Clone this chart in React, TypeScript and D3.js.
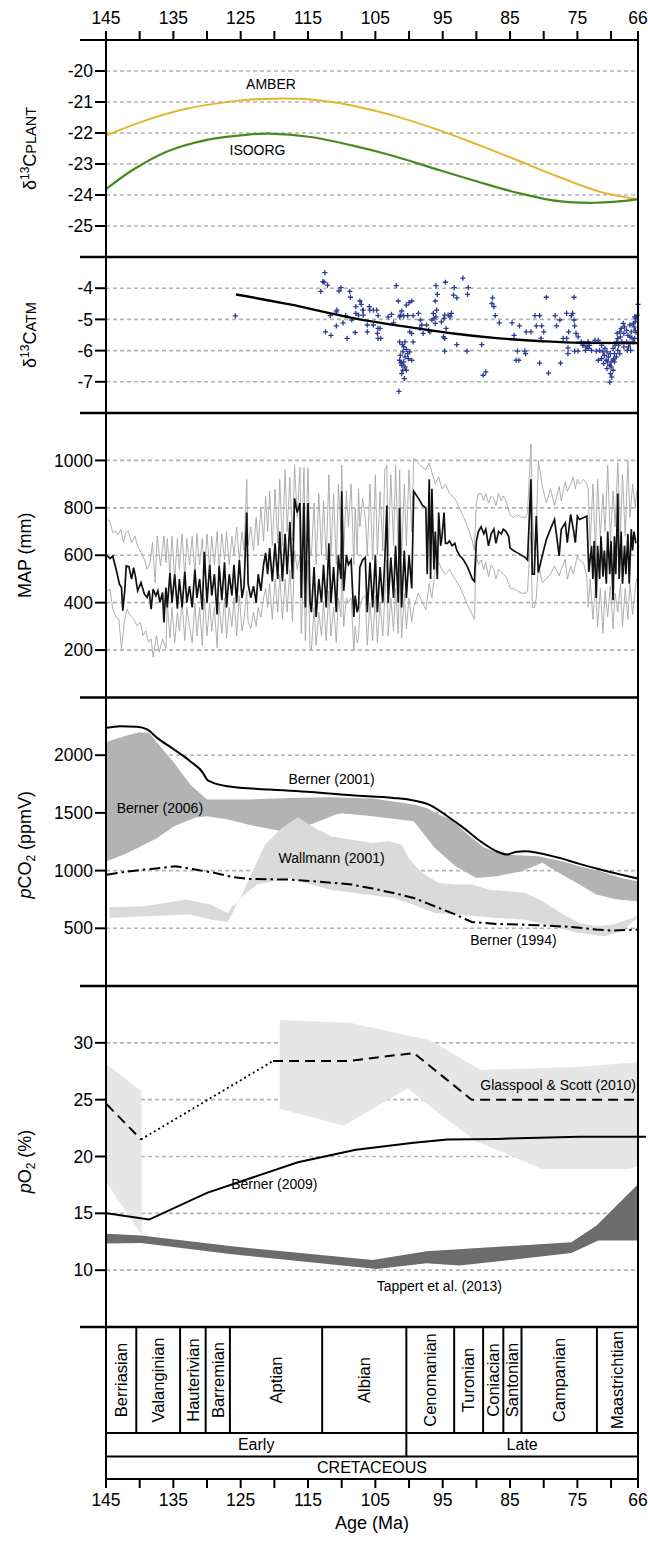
import React from "react";
import * as d3 from "d3";

type Pt = [number, number];

// ---- shared age axis ----
const ageTicks = [145, 140, 135, 130, 125, 120, 115, 110, 105, 100, 95, 90, 85, 80, 75, 70, 66];
const ageLabels = [145, 135, 125, 115, 105, 95, 85, 75, 66];

// ---- panel 1: d13C plant ----
const plantTicks = [-20, -21, -22, -23, -24, -25];
const amber: Pt[] = [[145, -22.08], [139.2, -21.6], [133.1, -21.22], [126.3, -20.98], [121.4, -20.9], [114.6, -20.92], [108.5, -21.11], [102.3, -21.44], [96.2, -21.86], [90.1, -22.35], [83.9, -22.88], [77.7, -23.42], [71.6, -23.9], [66, -24.14]];
const isoorg: Pt[] = [[145, -23.81], [141.1, -23.2], [136.1, -22.61], [130, -22.22], [123.9, -22.05], [120.8, -22.02], [114.6, -22.13], [108.5, -22.4], [102.3, -22.74], [96.2, -23.15], [90.1, -23.55], [83.9, -23.93], [77.7, -24.2], [72.2, -24.25], [66, -24.14]];

// ---- panel 2: d13C atm ----
const atmTicks = [-4, -5, -6, -7];
const atmTrend: Pt[] = [[125.7, -4.2], [117.7, -4.52], [108.5, -4.95], [99.3, -5.27], [93.1, -5.46], [87, -5.6], [80.8, -5.69], [74.7, -5.75], [66, -5.76]];
const atmPoints: Pt[] = [
  [125.8, -4.89], [112.5, -3.5], [112.8, -3.79], [112.6, -3.81], [112.1, -3.9], [113.1, -4.1], [110.4, -4.09], [110.1, -3.98], [108.8, -4.1], [108.7, -4.29],
  [107.3, -4.41], [107.1, -4.52], [107.9, -4.59], [106.9, -4.7], [107.9, -4.81], [107.5, -4.86], [110.7, -4.7], [110.8, -4.76], [111.7, -4.88], [109.4, -4.88],
  [108.5, -5.02], [109.8, -5.11], [110.8, -5.21], [112.4, -5.4], [111.6, -5.51], [109.2, -5.61], [108.0, -5.42],
  [106.8, -4.7], [105.9, -4.59], [105.8, -4.7], [105.3, -4.7], [104.8, -4.7], [104.6, -4.88], [106.8, -4.86], [106.2, -5.18], [106.2, -5.4], [105.3, -5.18],
  [104.6, -5.29], [104.3, -5.29], [104.7, -5.45], [104.6, -5.61], [104.2, -5.61], [103.1, -4.92], [102.6, -4.84], [102.3, -5.11], [101.6, -4.41], [101.1, -4.73],
  [101.3, -4.86], [101.4, -4.92], [100.8, -4.89], [100.4, -4.54], [100.0, -4.46], [99.6, -4.41], [100.2, -4.88], [99.4, -4.88], [98.6, -4.81], [98.3, -5.02],
  [98.1, -5.18], [98.4, -5.29], [97.9, -5.45], [99.9, -5.4], [99.6, -5.45], [99.4, -5.72], [100.6, -5.72], [101.4, -5.72], [101.9, -3.92],
  [100.8, -5.88], [100.4, -5.96], [100.9, -6.04], [99.9, -6.04], [101.3, -6.15], [100.6, -6.2], [100.1, -6.26], [100.8, -6.36], [101.4, -6.31], [99.6, -6.31],
  [101.1, -6.47], [100.6, -6.52], [100.9, -6.63], [100.4, -6.63], [101.1, -6.74], [101.5, -7.31], [101.0, -5.8], [100.2, -6.1], [101.2, -6.4], [100.7, -6.9],
  [97.4, -5.18], [97.1, -5.35], [96.9, -5.4], [96.6, -5.02], [96.3, -4.97], [96.1, -5.13], [96.0, -4.92], [96.4, -4.81], [95.9, -4.7], [96.1, -4.41],
  [95.8, -4.2], [96.0, -3.92], [95.2, -5.08], [94.9, -5.56], [94.7, -5.61], [94.5, -5.29], [94.8, -4.97], [94.7, -4.86], [94.2, -4.86], [93.7, -4.81],
  [93.9, -4.92], [94.7, -6.02], [94.6, -3.81], [93.3, -3.98], [93.4, -4.22], [92.9, -4.31], [92.9, -5.81], [92.0, -3.68], [91.2, -3.98], [91.3, -4.2],
  [91.4, -6.02], [89.2, -5.81], [89.0, -6.79], [88.6, -6.68], [87.6, -4.31], [87.7, -4.49], [87.4, -4.59], [87.2, -4.88], [86.6, -5.11],
  [84.7, -5.11], [83.6, -5.21], [84.4, -5.51], [82.6, -5.4], [81.9, -5.4], [81.3, -4.88], [80.6, -4.88], [81.1, -5.21], [80.3, -5.21], [80.0, -5.4],
  [80.4, -5.61], [79.6, -4.29], [78.3, -4.88], [77.6, -5.02], [78.1, -5.21], [76.6, -4.81], [75.9, -4.88], [75.7, -4.81], [75.5, -5.02], [75.4, -5.21],
  [75.5, -4.29], [76.3, -5.4], [75.2, -5.45], [77.1, -5.61], [76.6, -5.61], [74.9, -5.56], [83.9, -6.02], [82.8, -6.02], [82.7, -6.1], [84.1, -6.31],
  [83.7, -6.31], [80.6, -6.4], [79.3, -6.72], [77.5, -6.4], [76.4, -5.91], [75.4, -6.02], [74.9, -6.02], [76.4, -6.1],
  [74.4, -5.72], [74.0, -5.77], [73.7, -5.88], [73.4, -5.93], [73.8, -5.99], [74.2, -5.83], [73.2, -5.83], [72.4, -5.67], [71.9, -5.67], [71.4, -5.83],
  [71.7, -5.99], [71.2, -6.04], [71.0, -6.15], [71.9, -6.31], [71.4, -6.26], [70.7, -6.31], [70.5, -6.36], [71.1, -6.42], [70.2, -6.47], [70.6, -6.58],
  [70.0, -6.52], [69.7, -6.63], [70.1, -6.74], [69.9, -6.85], [70.2, -7.01], [70.0, -6.36], [69.6, -6.26], [69.5, -6.1], [69.7, -5.93], [69.4, -5.83],
  [69.2, -5.72], [69.0, -5.61], [69.1, -5.45], [68.7, -5.4], [68.5, -5.29], [68.2, -5.13], [68.0, -5.24], [67.7, -5.35], [68.1, -5.45], [67.5, -5.51],
  [67.2, -5.56], [67.7, -5.72], [67.4, -5.88], [67.1, -5.99], [66.7, -5.72], [66.5, -5.61], [67.0, -5.4], [66.6, -5.24], [66.4, -5.08], [66.3, -4.97],
  [66.1, -4.86], [66.0, -4.52], [66.5, -4.92], [66.7, -5.13], [67.2, -5.18], [69.0, -5.99], [68.7, -6.1], [69.5, -6.36], [70.4, -6.2], [70.9, -5.93],
  [72.2, -6.02], [72.9, -5.99], [73.4, -5.72], [68.9, -5.83], [68.4, -5.72], [68.1, -5.88], [67.6, -5.99], [67.2, -5.77], [66.9, -5.59], [66.3, -5.42],
  [66.4, -5.35], [68.6, -5.56], [69.2, -6.2], [69.7, -6.31], [70.1, -6.1], [70.6, -6.04],
];

// ---- panel 3: MAP ----
const mapTicks = [200, 400, 600, 800, 1000];
const mapMid: Pt[] = [
  [144.9, 600], [144.4, 586], [144.0, 597], [143.5, 541], [143.0, 478], [142.7, 464], [142.5, 366], [142.2, 457], [142.0, 555], [141.6, 552], [141.2, 499], [140.9, 548], [140.6, 506], [140.3, 450], [139.8, 485], [139.3, 436], [138.9, 422], [138.6, 450], [138.3, 373], [138.0, 457], [137.6, 429], [137.3, 450], [137.0, 401], [136.6, 443], [136.4, 317], [136.1, 464],
  [135.9, 380], [135.5, 525], [135.2, 400], [134.8, 520], [134.4, 375], [134.1, 500], [133.7, 380], [133.3, 530], [133.0, 400], [132.6, 470], [132.2, 380], [131.8, 540], [131.5, 420], [131.1, 500], [130.7, 370], [130.4, 615], [130.0, 400], [129.6, 560], [129.3, 430], [128.9, 520], [128.5, 350], [128.2, 555], [127.8, 410], [127.4, 570], [127.1, 380], [126.7, 520], [126.3, 430], [126.0, 560], [125.6, 400], [125.2, 580], [124.8, 420], [124.5, 470], [124.1, 780], [123.9, 480], [123.5, 420], [123.1, 470], [122.7, 400], [122.4, 520], [122.0, 450], [121.6, 560], [121.3, 610],
  [121.0, 520], [120.7, 630], [120.3, 490], [119.9, 650], [119.5, 500], [119.2, 700], [118.8, 490], [118.4, 690], [118.1, 520], [117.7, 740], [117.3, 500], [117.0, 840], [116.6, 780], [116.2, 820], [116.0, 420], [115.6, 820], [115.4, 380], [115.0, 820], [114.7, 400],
  [114.5, 360], [114.1, 550], [113.8, 340], [113.4, 500], [113.0, 400], [112.7, 560], [112.3, 380], [111.9, 650], [111.6, 400], [111.2, 550], [110.8, 360], [110.5, 600], [110.1, 500], [110.0, 870], [109.7, 450], [109.3, 600], [109.0, 560], [108.6, 580], [108.2, 340], [108.0, 430], [107.7, 360], [107.5, 380], [107.3, 550], [106.9, 580], [106.5, 590], [106.2, 360], [105.8, 570], [105.4, 380], [105.0, 600], [104.7, 360], [104.3, 550], [103.9, 400], [103.6, 580], [103.3, 810], [103.1, 400], [102.7, 590], [102.3, 420], [102.0, 640], [101.6, 400], [101.4, 800], [101.1, 380], [100.7, 620], [100.4, 420], [100.0, 600], [99.6, 460],
  [99.3, 870], [98.6, 840], [98.0, 810], [97.5, 800], [97.3, 520], [97.0, 920], [96.8, 500], [96.6, 880], [96.3, 540], [96.1, 700], [95.8, 500], [95.6, 780], [95.3, 640], [95.1, 680], [94.8, 780], [94.6, 650], [94.3, 650], [94.0, 660], [93.6, 640], [93.2, 650], [92.9, 620], [92.5, 600], [91.9, 580], [91.3, 550], [90.6, 500], [90.3, 490],
  [90.0, 660], [89.7, 700], [89.3, 720], [88.9, 690], [88.6, 710], [88.2, 640], [87.8, 690], [87.4, 710], [87.1, 650], [86.7, 700], [86.3, 690], [86.0, 710], [85.6, 700], [85.2, 680], [85.0, 630], [84.5, 620], [83.9, 610], [83.3, 600], [82.7, 590], [82.4, 580], [81.9, 920], [81.7, 520], [81.4, 520],
  [81.1, 765], [80.8, 527], [80.2, 600], [79.6, 667], [79.0, 710], [78.4, 751], [77.7, 597], [77.4, 709], [76.8, 737], [76.5, 653], [76.0, 772], [75.6, 709], [75.3, 653], [75.0, 765], [74.7, 751], [74.1, 758], [73.6, 765],
  [73.3, 530], [72.9, 640], [72.7, 500], [72.5, 660], [72.2, 420], [72.0, 640], [71.7, 500], [71.5, 680], [71.2, 510], [71.0, 620], [70.7, 480], [70.5, 700], [70.2, 520], [70.0, 660], [69.7, 410], [69.5, 680], [69.3, 520], [69.0, 860], [68.8, 500], [68.5, 700], [68.3, 480], [68.0, 640], [67.8, 520], [67.5, 690], [67.3, 480], [67.0, 710], [66.8, 620], [66.6, 700], [66.3, 650],
];
const mapHigh: Pt[] = [
  [144.9, 751], [144.4, 744], [144.0, 695], [143.6, 702], [143.2, 688], [142.8, 709], [142.4, 653], [142.1, 695], [141.7, 702], [141.2, 653], [140.7, 681], [140.3, 639], [139.8, 611], [139.3, 583], [138.9, 541], [138.5, 562], [138.1, 653], [137.7, 485], [137.4, 681], [136.9, 555], [136.4, 681], [136.1, 569],
  [135.9, 670], [135.5, 520], [135.2, 680], [134.8, 500], [134.4, 670], [134.1, 540], [133.7, 690], [133.3, 500], [133.0, 670], [132.6, 560], [132.2, 680], [131.8, 520], [131.5, 690], [131.1, 560], [130.7, 670], [130.4, 520], [130.0, 690], [129.6, 540], [129.3, 680], [128.9, 560], [128.5, 700], [128.2, 540], [127.8, 690], [127.4, 580], [127.1, 700], [126.7, 560], [126.3, 680], [126.0, 600], [125.6, 720], [125.2, 580], [124.8, 700], [124.5, 620], [124.1, 920], [123.9, 640], [123.5, 720], [123.1, 620], [122.7, 760], [122.4, 640], [122.0, 800], [121.6, 660], [121.3, 850],
  [121.0, 700], [120.7, 870], [120.3, 640], [119.9, 880], [119.5, 650], [119.2, 920], [118.8, 640], [118.4, 960], [118.1, 700], [117.7, 930], [117.3, 660], [117.0, 980], [116.6, 760], [116.2, 970], [116.0, 600], [115.6, 970], [115.4, 600], [115.0, 970], [114.7, 620],
  [114.5, 600], [114.1, 820], [113.8, 560], [113.4, 860], [113.0, 600], [112.7, 830], [112.3, 580], [111.9, 940], [111.6, 600], [111.2, 860], [110.8, 560], [110.5, 900], [110.1, 700], [110.0, 980], [109.7, 620], [109.3, 870], [109.0, 720], [108.6, 900], [108.2, 560], [108.0, 800], [107.7, 600], [107.5, 880], [107.3, 720], [106.9, 840], [106.5, 760], [106.2, 600], [105.8, 900], [105.4, 580], [105.0, 940], [104.7, 600], [104.3, 870], [103.9, 620], [103.6, 960], [103.3, 980], [103.1, 600], [102.7, 940], [102.3, 640], [102.0, 980], [101.6, 620], [101.4, 960], [101.1, 600], [100.7, 900], [100.4, 640], [100.0, 960], [99.6, 700],
  [99.3, 1010], [98.6, 990], [98.0, 970], [97.5, 960], [97.0, 990], [96.6, 950], [96.1, 900], [95.6, 930], [95.1, 880], [94.6, 900], [94.0, 860], [93.2, 840], [92.5, 800], [91.9, 760], [91.3, 720], [90.6, 660], [90.3, 620],
  [90.0, 820], [89.7, 860], [89.3, 860], [88.9, 830], [88.6, 860], [88.2, 820], [87.8, 850], [87.4, 840], [87.1, 810], [86.7, 860], [86.3, 830], [86.0, 850], [85.6, 830], [85.2, 790], [85.0, 770], [84.5, 760], [83.9, 770], [83.3, 760], [82.7, 760], [82.4, 780], [81.9, 1070], [81.7, 800], [81.4, 620],
  [81.1, 700], [80.8, 1000], [80.2, 890], [79.6, 820], [79.0, 880], [78.4, 810], [77.7, 890], [77.4, 830], [76.8, 910], [76.5, 870], [76.0, 900], [75.6, 930], [75.3, 880], [75.0, 920], [74.7, 900], [74.1, 920], [73.6, 900],
  [73.4, 880], [73.1, 640], [72.7, 900], [72.3, 620], [72.0, 920], [71.6, 680], [71.2, 860], [70.9, 700], [70.5, 980], [70.1, 660], [69.7, 870], [69.4, 720], [69.0, 990], [68.6, 700], [68.3, 940], [67.9, 680], [67.5, 1000], [67.2, 760], [66.8, 900], [66.4, 800], [66.2, 870],
];
const mapLow: Pt[] = [
  [144.9, 450], [144.4, 457], [144.0, 373], [143.5, 338], [143.1, 331], [142.7, 205], [142.3, 317], [141.9, 373], [141.4, 345], [140.9, 331], [140.4, 303], [139.9, 317], [139.5, 261], [139.1, 282], [138.7, 233], [138.3, 247], [138.0, 170], [137.5, 261], [137.1, 191], [136.6, 247], [136.1, 205],
  [135.9, 400], [135.5, 250], [135.2, 380], [134.8, 230], [134.4, 360], [134.1, 280], [133.7, 400], [133.3, 240], [133.0, 380], [132.6, 300], [132.2, 230], [131.8, 400], [131.5, 260], [131.1, 380], [130.7, 220], [130.4, 420], [130.0, 260], [129.6, 400], [129.3, 280], [128.9, 380], [128.5, 210], [128.2, 400], [127.8, 270], [127.4, 420], [127.1, 250], [126.7, 380], [126.3, 300], [126.0, 420], [125.6, 260], [125.2, 430], [124.8, 280], [124.5, 330], [124.1, 450], [123.9, 320], [123.5, 290], [123.1, 360], [122.7, 300], [122.4, 380], [122.0, 340], [121.6, 420], [121.3, 460],
  [121.0, 380], [120.7, 480], [120.3, 330], [119.9, 500], [119.5, 360], [119.2, 520], [118.8, 330], [118.4, 500], [118.1, 360], [117.7, 540], [117.3, 320], [117.0, 620], [116.6, 540], [116.2, 600], [116.0, 270], [115.6, 600], [115.4, 240], [115.0, 580], [114.7, 210],
  [114.5, 200], [114.1, 380], [113.8, 220], [113.4, 360], [113.0, 260], [112.7, 400], [112.3, 240], [111.9, 450], [111.6, 260], [111.2, 380], [110.8, 230], [110.5, 420], [110.1, 340], [110.0, 620], [109.7, 300], [109.3, 420], [109.0, 400], [108.6, 420], [108.2, 200], [108.0, 300], [107.7, 230], [107.5, 250], [107.3, 380], [106.9, 420], [106.5, 430], [106.2, 220], [105.8, 400], [105.4, 240], [105.0, 430], [104.7, 230], [104.3, 400], [103.9, 260], [103.6, 420], [103.3, 580], [103.1, 260], [102.7, 420], [102.3, 280], [102.0, 460], [101.6, 270], [101.4, 580], [101.1, 250], [100.7, 440], [100.4, 290], [100.0, 420], [99.6, 320],
  [99.3, 380], [98.6, 440], [98.0, 400], [97.5, 370], [97.0, 480], [96.6, 420], [96.1, 550], [95.6, 570], [95.1, 540], [94.6, 520], [94.0, 540], [93.2, 500], [92.5, 470], [91.9, 430], [91.3, 390], [90.6, 350], [90.3, 330],
  [90.0, 600], [89.7, 560], [89.3, 580], [88.9, 540], [88.6, 570], [88.2, 510], [87.8, 560], [87.4, 540], [87.1, 500], [86.7, 540], [86.3, 530], [86.0, 520], [85.6, 510], [85.2, 480], [85.0, 460], [84.5, 460], [83.9, 450], [83.3, 440], [82.7, 440], [82.4, 450], [81.9, 700], [81.7, 380], [81.4, 380],
  [81.1, 420], [80.8, 560], [80.2, 485], [79.6, 500], [79.0, 520], [78.4, 555], [77.7, 513], [77.4, 540], [76.8, 583], [76.5, 499], [76.0, 555], [75.6, 520], [75.3, 560], [75.0, 597], [74.7, 580], [74.1, 569], [73.6, 513],
  [73.4, 380], [73.1, 500], [72.7, 330], [72.3, 480], [72.0, 300], [71.6, 460], [71.2, 270], [70.9, 450], [70.5, 340], [70.1, 470], [69.7, 290], [69.4, 440], [69.0, 360], [68.6, 480], [68.3, 300], [67.9, 460], [67.5, 330], [67.2, 480], [66.8, 350], [66.4, 460], [66.2, 500],
];

// ---- panel 4: pCO2 ----
const co2Ticks = [500, 1000, 1500, 2000];
const berner2001: Pt[] = [[144.9, 2237], [142.9, 2251], [140.4, 2246], [138.9, 2223], [137.4, 2150], [134.9, 2049], [132.5, 1948], [130.6, 1847], [130.0, 1789], [129.4, 1769], [126.9, 1731], [120.8, 1702], [114.6, 1682], [108.5, 1653], [102.3, 1630], [99.3, 1607], [96.8, 1566], [94.3, 1471], [91.9, 1370], [89.4, 1254], [87.0, 1168], [85.4, 1139], [84.2, 1162], [82.7, 1168], [80.8, 1153], [77.7, 1110], [74.7, 1058], [71.6, 1009], [68.5, 965], [66.1, 931]];
const berner2006Top: Pt[] = [[144.9, 2116], [142.3, 2165], [140.1, 2199], [138.6, 2194], [137.4, 2107], [134.9, 1934], [132.5, 1746], [130.0, 1616], [123.9, 1616], [117.7, 1630], [111.6, 1636], [105.4, 1624], [99.3, 1572], [97.4, 1543], [95.6, 1486], [93.7, 1442], [91.3, 1312], [88.8, 1197], [86.3, 1145], [83.9, 1133], [80.8, 1124], [77.7, 1087], [74.7, 1038], [71.6, 994], [68.5, 936], [66.1, 908]];
const berner2006Bottom: Pt[] = [[144.9, 1081], [142.3, 1139], [139.8, 1211], [137.4, 1283], [134.9, 1384], [131.8, 1457], [130.0, 1471], [126.9, 1442], [123.9, 1399], [118.9, 1341], [114.6, 1399], [110.3, 1500], [105.4, 1471], [99.3, 1428], [96.2, 1197], [93.1, 1038], [90.0, 936], [87.0, 951], [83.3, 994], [80.2, 1067], [77.7, 980], [74.7, 879], [72.2, 792], [69.1, 749], [66.1, 734]];
const wallmannTop: Pt[] = [[144.5, 682], [139.2, 691], [133.1, 749], [129.4, 705], [127.5, 648], [126.9, 633], [126.3, 691], [125.4, 720], [123.9, 908], [121.4, 1225], [118.9, 1370], [116.5, 1462], [114.0, 1370], [111.6, 1298], [107.9, 1260], [105.4, 1240], [102.9, 1254], [101.1, 1225], [99.9, 1095], [98.0, 980], [95.6, 893], [93.1, 879], [90.6, 879], [88.2, 835], [85.1, 821], [82.7, 806], [80.2, 734], [77.1, 619], [74.7, 546], [72.2, 517], [69.7, 532], [66.1, 604]];
const wallmannBottom: Pt[] = [[144.5, 590], [139.2, 604], [132.5, 619], [129.4, 575], [126.9, 555], [125.1, 763], [122.6, 879], [117.7, 936], [114.6, 879], [111.6, 835], [107.9, 806], [102.3, 763], [99.3, 705], [96.2, 633], [93.1, 619], [90.0, 604], [87.0, 590], [82.7, 575], [79.0, 517], [74.7, 460], [71.0, 431], [68.5, 474], [66.1, 590]];
const berner1994: Pt[] = [[144.9, 965], [142.3, 988], [139.2, 1009], [136.8, 1023], [134.6, 1038], [131.8, 1009], [128.8, 980], [126.3, 945], [123.9, 928], [117.7, 922], [112.8, 902], [108.5, 879], [105.4, 844], [102.3, 806], [99.3, 763], [96.2, 691], [93.1, 619], [90.7, 555], [87.0, 538], [80.8, 526], [75.9, 512], [72.2, 489], [69.7, 480], [66.1, 489]];

// ---- panel 5: pO2 ----
const o2Ticks = [10, 15, 20, 25, 30];
const gsBandLeftTop: Pt[] = [[144.9, 28.1], [139.7, 25.75]];
const gsBandLeftBottom: Pt[] = [[144.9, 17.7], [139.7, 13.1]];
const gsBandTop: Pt[] = [[119.2, 32.0], [108.8, 31.76], [96.8, 30.2], [89.4, 27.6], [74.7, 27.9], [66.1, 28.3]];
const gsBandBottom: Pt[] = [[119.2, 24.2], [109.7, 22.7], [100.2, 26.0], [95.6, 23.8], [90.0, 21.35], [80.2, 18.9], [67.3, 18.9], [66.1, 19.15]];
const gsDashA: Pt[] = [[144.9, 24.6], [139.8, 21.5]];
const gsDotted: Pt[] = [[139.8, 21.5], [120.2, 28.4]];
const gsDashB: Pt[] = [[120.2, 28.4], [109.1, 28.4], [99.3, 29.1], [90.7, 25.0], [66.1, 25.0]];
const berner2009: Pt[] = [[144.9, 15.0], [138.6, 14.45], [130.0, 16.8], [116.5, 19.5], [107.9, 20.6], [99.3, 21.2], [94.3, 21.5], [87.0, 21.55], [74.7, 21.73], [64.8, 21.73]];
const tappertTop: Pt[] = [[144.9, 13.2], [139.8, 13.05], [126.3, 12.1], [105.4, 10.9], [97.4, 11.67], [75.9, 12.46], [72.2, 13.9], [66.1, 17.5]];
const tappertBottom: Pt[] = [[144.9, 12.35], [139.8, 12.4], [126.3, 11.4], [104.8, 10.1], [97.4, 10.6], [92.5, 10.4], [75.9, 11.5], [71.9, 12.6], [66.1, 12.6]];

// ---- stratigraphy ----
const stageNames = ["Berriasian", "Valanginian", "Hauterivian", "Barremian", "Aptian", "Albian", "Cenomanian", "Turonian", "Coniacian", "Santonian", "Campanian", "Maastrichtian"];
const stageBounds = [145, 140.5, 134, 130.2, 126.6, 112.9, 100.4, 93.3, 89, 86, 83.3, 72.1, 66];
const epochNames = ["Early", "Late"];
const epochBounds = [145, 100.4, 66];

const FONT = "'Liberation Sans', Arial, Helvetica, sans-serif";
const GRID = "#b4b4b4";

export default function App() {
  const W = 648;
  const H = 1543;
  const left = 106;
  const right = 638;
  const x = d3.scaleLinear().domain([145, 66]).range([left, right]);

  const seps = [40, 257, 413, 697.5, 986, 1327];
  const y1 = d3.scaleLinear().domain([-26, -19]).range([257, 40]);
  const y2 = d3.scaleLinear().domain([-8, -3]).range([413, 257]);
  const y3 = d3.scaleLinear().domain([0, 1200]).range([697.5, 413]);
  const y4 = d3.scaleLinear().domain([0, 2500]).range([986, 697.5]);
  const y5 = d3.scaleLinear().domain([5, 35]).range([1327, 986]);
  const stTop = 1327, stMid = 1433, epMid = 1456.5, bottom = 1479;

  const lineOf = (y: d3.ScaleLinear<number, number>, curve: d3.CurveFactory = d3.curveLinear) =>
    d3.line<Pt>().x((d) => x(d[0])).y((d) => y(d[1])).curve(curve);
  const band = (y: d3.ScaleLinear<number, number>, top: Pt[], bot: Pt[]) =>
    (d3.line<Pt>().x((d) => x(d[0])).y((d) => y(d[1]))([...top, ...bot.slice().reverse()]) || "") + "Z";

  const grid = (y: d3.ScaleLinear<number, number>, ticks: number[]) =>
    ticks.map((t) => (
      <line key={"g" + t} x1={left} x2={right} y1={y(t)} y2={y(t)} stroke={GRID} strokeWidth={1.6} strokeDasharray="4 3" />
    ));
  const yAxis = (y: d3.ScaleLinear<number, number>, ticks: number[]) =>
    ticks.map((t) => (
      <g key={"t" + t}>
        <line x1={left - 11} x2={left} y1={y(t)} y2={y(t)} stroke="#000" strokeWidth={2} />
        <text x={left - 13} y={y(t)} dy="0.35em" textAnchor="end" fontSize={17.5}>{t}</text>
      </g>
    ));
  const ann = (tx: number, ty: number, s: string, anchor: "start" | "middle" | "end" = "middle") => (
    <text x={tx} y={ty} dy="0.35em" textAnchor={anchor} fontSize={14}>{s}</text>
  );

  const plus = atmPoints.map((d) => {
    const px = x(d[0]);
    const py = y2(d[1]);
    return `M${px - 2.6},${py}h5.2M${px},${py - 2.6}v5.2`;
  }).join("");

  return (
    <svg width={W} height={H} style={{ position: "absolute", left: 0, top: 0, background: "#fff" }} fontFamily={FONT}>
      {/* grid lines */}
      {grid(y1, plantTicks)}
      {grid(y2, atmTicks)}
      {grid(y3, mapTicks)}
      {grid(y4, co2Ticks)}
      {grid(y5, o2Ticks)}

      {/* panel 1 */}
      <path d={lineOf(y1, d3.curveCatmullRom)(amber) || ""} fill="none" stroke="#e5b52e" strokeWidth={2} />
      <path d={lineOf(y1, d3.curveCatmullRom)(isoorg) || ""} fill="none" stroke="#4a8a1d" strokeWidth={2.2} />
      <text x={x(120.5)} y={y1(-20.42)} dy="0.35em" textAnchor="middle" fontSize={14}>AMBER</text>
      <text x={x(122.5)} y={y1(-22.55)} dy="0.35em" textAnchor="middle" fontSize={14}>ISOORG</text>

      {/* panel 2 */}
      <path d={plus} fill="none" stroke="#2b3a92" strokeWidth={1.3} />
      <path d={lineOf(y2, d3.curveMonotoneX)(atmTrend) || ""} fill="none" stroke="#000" strokeWidth={2.4} />

      {/* panel 3 */}
      <path d={lineOf(y3)(mapHigh) || ""} fill="none" stroke="#a6a6a6" strokeWidth={0.9} />
      <path d={lineOf(y3)(mapLow) || ""} fill="none" stroke="#a6a6a6" strokeWidth={0.9} />
      <path d={lineOf(y3)(mapMid) || ""} fill="none" stroke="#111" strokeWidth={1.7} />

      {/* panel 4 */}
      <path d={band(y4, berner2006Top, berner2006Bottom)} fill="#b3b3b3" />
      <path d={band(y4, wallmannTop, wallmannBottom)} fill="#dadada" />
      <path d={lineOf(y4, d3.curveMonotoneX)(berner2001) || ""} fill="none" stroke="#000" strokeWidth={2} />
      <path d={lineOf(y4)(berner1994) || ""} fill="none" stroke="#000" strokeWidth={2} strokeDasharray="11 4 2.5 4" />
      {ann(x(111.5), y4(1790), "Berner (2001)")}
      {ann(x(137), y4(1540), "Berner (2006)")}
      {ann(x(111.5), y4(1110), "Wallmann (2001)")}
      {ann(x(84.5), y4(400), "Berner (1994)")}

      {/* panel 5 */}
      <path d={band(y5, gsBandLeftTop, gsBandLeftBottom)} fill="#e6e6e6" />
      <path d={band(y5, gsBandTop, gsBandBottom)} fill="#e6e6e6" />
      <path d={band(y5, tappertTop, tappertBottom)} fill="#6c6c6c" />
      <path d={lineOf(y5)(gsDashA) || ""} fill="none" stroke="#000" strokeWidth={2} strokeDasharray="10 6" />
      <path d={lineOf(y5)(gsDotted) || ""} fill="none" stroke="#000" strokeWidth={1.8} strokeDasharray="2 3" />
      <path d={lineOf(y5)(gsDashB) || ""} fill="none" stroke="#000" strokeWidth={2} strokeDasharray="10 6" />
      <path d={lineOf(y5)(berner2009) || ""} fill="none" stroke="#000" strokeWidth={2} />
      {ann(x(66.3), y5(26.3), "Glasspool & Scott (2010)", "end")}
      {ann(x(120), y5(17.6), "Berner (2009)")}
      {ann(x(95.5), y5(8.6), "Tappert et al. (2013)")}

      {/* y axes */}
      {yAxis(y1, plantTicks)}
      {yAxis(y2, atmTicks)}
      {yAxis(y3, mapTicks)}
      {yAxis(y4, co2Ticks)}
      {yAxis(y5, o2Ticks)}

      {/* axis titles */}
      <text transform={`translate(36,${(40 + 257) / 2}) rotate(-90)`} textAnchor="middle" fontSize={18}>
        δ<tspan fontSize={12} dy={-7}>13</tspan><tspan dy={7}>C</tspan><tspan fontSize={14.5}>PLANT</tspan>
      </text>
      <text transform={`translate(36,${(257 + 413) / 2}) rotate(-90)`} textAnchor="middle" fontSize={18}>
        δ<tspan fontSize={12} dy={-7}>13</tspan><tspan dy={7}>C</tspan><tspan fontSize={14.5}>ATM</tspan>
      </text>
      <text transform={`translate(31,${(413 + 697.5) / 2}) rotate(-90)`} textAnchor="middle" fontSize={18}>MAP (mm)</text>
      <text transform={`translate(31,${(697.5 + 986) / 2 + 3}) rotate(-90)`} textAnchor="middle" fontSize={18}>
        <tspan fontStyle="italic">p</tspan>CO<tspan fontSize={12} dy={4}>2</tspan><tspan dy={-4}> (ppmV)</tspan>
      </text>
      <text transform={`translate(31,${(986 + 1327) / 2 + 5}) rotate(-90)`} textAnchor="middle" fontSize={18}>
        <tspan fontStyle="italic">p</tspan>O<tspan fontSize={12} dy={4}>2</tspan><tspan dy={-4}> (%)</tspan>
      </text>

      {/* stratigraphic columns */}
      {stageBounds.slice(1, -1).map((b) => (
        <line key={"sb" + b} x1={x(b)} x2={x(b)} y1={stTop} y2={stMid} stroke="#000" strokeWidth={2} />
      ))}
      {stageNames.map((n, i) => {
        const cx = (x(stageBounds[i]) + x(stageBounds[i + 1])) / 2;
        return (
          <text key={n} transform={`translate(${cx},${(stTop + stMid) / 2}) rotate(-90)`} dy="0.35em" textAnchor="middle" fontSize={16.5}>{n}</text>
        );
      })}
      <line x1={left} x2={right} y1={stMid} y2={stMid} stroke="#000" strokeWidth={2} />
      <line x1={left} x2={right} y1={epMid} y2={epMid} stroke="#000" strokeWidth={2} />
      {epochBounds.slice(1, -1).map((b) => (
        <line key={"eb" + b} x1={x(b)} x2={x(b)} y1={stMid} y2={epMid} stroke="#000" strokeWidth={2} />
      ))}
      {epochNames.map((n, i) => (
        <text key={n} x={(x(epochBounds[i]) + x(epochBounds[i + 1])) / 2} y={(stMid + epMid) / 2} dy="0.35em" textAnchor="middle" fontSize={16}>{n}</text>
      ))}
      <text x={(left + right) / 2} y={(epMid + bottom) / 2} dy="0.35em" textAnchor="middle" fontSize={16}>CRETACEOUS</text>

      {/* frame */}
      {seps.map((s) => (
        <line key={"s" + s} x1={80} x2={right + 1} y1={s} y2={s} stroke="#000" strokeWidth={s === 40 ? 2 : 2.6} />
      ))}
      <line x1={left} x2={left} y1={40} y2={bottom + 9} stroke="#000" strokeWidth={2} />
      <line x1={right} x2={right} y1={31} y2={bottom + 9} stroke="#000" strokeWidth={2} />
      <line x1={left} x2={right + 1} y1={bottom} y2={bottom} stroke="#000" strokeWidth={2} />

      {/* top and bottom age axes */}
      {ageTicks.map((t) => (
        <g key={"a" + t}>
          <line x1={x(t)} x2={x(t)} y1={31} y2={40} stroke="#000" strokeWidth={2} />
          <line x1={x(t)} x2={x(t)} y1={bottom} y2={bottom + 9} stroke="#000" strokeWidth={2} />
        </g>
      ))}
      {ageLabels.map((t) => (
        <g key={"al" + t}>
          <text x={x(t)} y={24} textAnchor="middle" fontSize={17.5}>{t}</text>
          <text x={x(t)} y={1506} textAnchor="middle" fontSize={17.5}>{t}</text>
        </g>
      ))}
      <text x={(left + right) / 2} y={1529} textAnchor="middle" fontSize={18}>Age (Ma)</text>
    </svg>
  );
}
